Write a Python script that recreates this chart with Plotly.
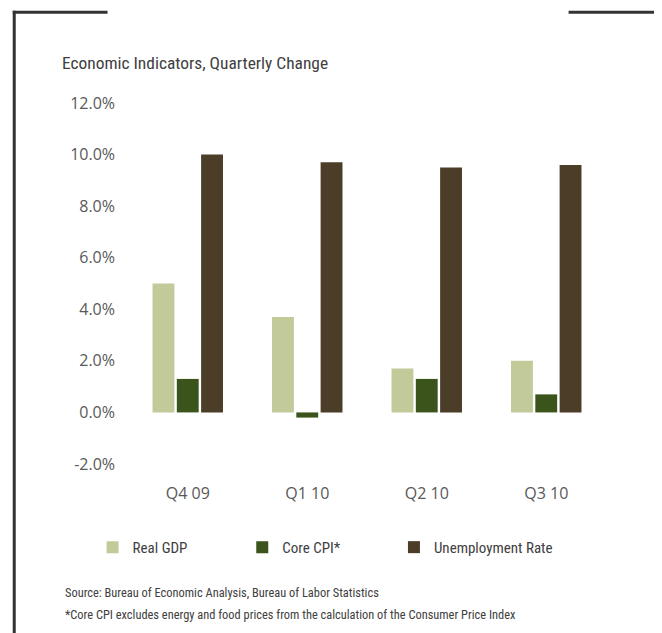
import plotly.graph_objects as go

quarters = ["Q4 09", "Q1 10", "Q2 10", "Q3 10"]
real_gdp = [5.0, 3.7, 1.7, 2.0]
core_cpi = [1.3, -0.2, 1.3, 0.7]
unemployment = [10.0, 9.7, 9.5, 9.6]
y_ticks = [-2, 0, 2, 4, 6, 8, 10, 12]
y_tick_labels = ["-2.0%", "0.0%", "2.0%", "4.0%", "6.0%", "8.0%", "10.0%", "12.0%"]

OFF = 8  # page body margin
W, H = 662 - OFF, 633 - OFF
L, R, T, B = 127.5 - OFF, 606.5 - OFF, 102.5 - OFF, 464.4 - OFF

def px(x):
    return (x - OFF - L) / (R - L)

def py(y):
    return (B - (y - OFF)) / (B - T)

NARROW = "Roboto Condensed, Liberation Sans, sans-serif"
TICKF = "Open Sans, Noto Sans, sans-serif"

fig = go.Figure()
fig.add_bar(x=quarters, y=real_gdp, name="Real GDP", marker_color="#C2CA9A", marker_line_width=0, legend="legend")
fig.add_bar(x=quarters, y=core_cpi, name="Core CPI*", marker_color="#3A541C", marker_line_width=0, legend="legend2")
fig.add_bar(x=quarters, y=unemployment, name="Unemployment Rate", marker_color="#4C3D29", marker_line_width=0, legend="legend3")

line = dict(color="#333333", width=3)
shapes = [
    dict(type="line", xref="paper", yref="paper", x0=px(12), x1=px(107), y0=py(11.5), y1=py(11.5), line=line),
    dict(type="line", xref="paper", yref="paper", x0=px(13.5), x1=px(13.5), y0=py(10), y1=py(645), line=line),
    dict(type="line", xref="paper", yref="paper", x0=px(569), x1=px(662), y0=py(11.5), y1=py(11.5), line=line),
    dict(type="line", xref="paper", yref="paper", x0=px(659.5), x1=px(659.5), y0=py(10), y1=py(645), line=line),
]

annotations = [
    dict(text="Source: Bureau of Economic Analysis, Bureau of Labor Statistics",
         xref="paper", yref="paper", x=px(62), y=py(593), xanchor="left", yanchor="middle",
         showarrow=False, font=dict(family=NARROW, size=12.4, color="#404040")),
    dict(text="*Core CPI excludes energy and food prices from the calculation of the Consumer Price Index",
         xref="paper", yref="paper", x=px(62), y=py(615), xanchor="left", yanchor="middle",
         showarrow=False, font=dict(family=NARROW, size=12.4, color="#404040")),
]

def leg(xpix):
    return dict(orientation="h", x=px(xpix), y=py(548), xanchor="left", yanchor="middle",
                itemwidth=30, font=dict(family=NARROW, size=15, color="#404040"),
                bgcolor="rgba(0,0,0,0)")

fig.update_layout(
    width=W, height=H,
    margin=dict(l=L, r=W - R, t=T, b=H - B, autoexpand=False),
    paper_bgcolor="white", plot_bgcolor="white",
    showlegend=True,
    barmode="group", bargap=0.39, bargroupgap=0.1,
    title=dict(text="Economic Indicators, Quarterly Change", xref="container", yref="container",
               x=(62 - OFF) / W, y=1 - (63 - OFF) / H, xanchor="left", yanchor="middle",
               font=dict(family=NARROW, size=17.4, color="#404040")),
    xaxis=dict(showgrid=False, showline=False, zeroline=False, ticks="",
               tickfont=dict(family=TICKF, size=16, color="#595959"), ticklabelstandoff=18),
    yaxis=dict(range=[-2, 12], tickvals=y_ticks, ticktext=y_tick_labels, showgrid=False,
               showline=False, zeroline=False, ticks="",
               tickfont=dict(family=TICKF, size=16, color="#595959"), ticklabelstandoff=12),
    legend=leg(92), legend2=leg(242), legend3=leg(394),
    shapes=shapes, annotations=annotations,
)

fig.write_html("out.html")
